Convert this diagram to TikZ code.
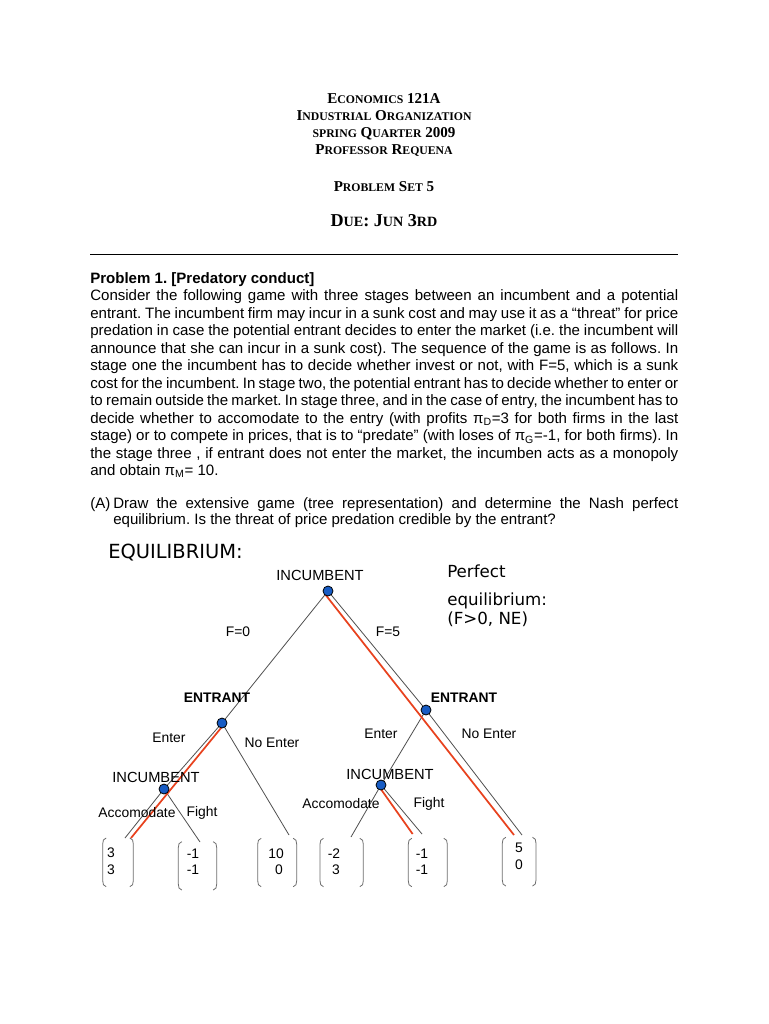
\documentclass[tikz,border=0pt]{standalone}
\usepackage{fontspec}
\setmainfont{Liberation Sans}
\newfontfamily\hdfont{Liberation Serif}
\newfontfamily\dvfont{DejaVu Sans}
\usetikzlibrary{backgrounds}
\frenchspacing
\newcommand\scx[1]{{\fontsize{8.8}{8.8}\selectfont #1}}
\newcommand\scy[1]{{\fontsize{10.6}{10.6}\selectfont #1}}
\definecolor{eqred}{RGB}{232,66,30}
\definecolor{edgegray}{RGB}{80,80,80}
\definecolor{dotblue}{RGB}{24,92,196}
\definecolor{brkgray}{RGB}{110,110,110}
\newcommand\brk[4]{%
  \draw[brkline] ({#1+3.5},#3) to[out=180,in=90] (#1,{#3+6}) -- (#1,{#4-6}) to[out=-90,in=180] ({#1+3.5},#4);
  \draw[brkline] ({#2-3.5},#3) to[out=0,in=90] (#2,{#3+6}) -- (#2,{#4-6}) to[out=-90,in=0] ({#2-3.5},#4);}
\begin{document}
\begin{tikzpicture}[x=0.75pt,y=-0.75pt,
  hd/.style={anchor=base,inner sep=0,font=\hdfont\bfseries\fontsize{11.3}{11.3}\selectfont},
  body/.style={anchor=base west,inner sep=0,font=\fontsize{11.29}{13}\selectfont},
  lbl/.style={inner sep=0,font=\fontsize{10.4}{10.4}\selectfont},
  blbl/.style={inner sep=0,font=\bfseries\fontsize{10.4}{10.4}\selectfont},
  inc/.style={inner sep=0,font=\fontsize{11}{11}\selectfont},
  pe/.style={anchor=base west,inner sep=0,font=\dvfont\fontsize{12.5}{12.5}\selectfont},
  num/.style={inner sep=0,font=\fontsize{10.4}{10.4}\selectfont},
  dot/.style={circle,draw=black,fill=dotblue,line width=0.6pt,minimum size=7.5pt,inner sep=0},
  edge/.style={draw=edgegray,line width=0.6pt},
  eq/.style={draw=eqred,line width=1.3pt},
  brkline/.style={draw=brkgray,line width=0.6pt}]
\useasboundingbox (0,0) rectangle (768,1024);

% heading
\node[hd] (h1) at (384,103.3) {E\scx{CONOMICS} 121A};
\node[hd] (h2) at (384,120.7) {I\scx{NDUSTRIAL} O\scx{RGANIZATION}};
\node[hd] (h3) at (384,137.3) {\scx{SPRING} Q\scx{UARTER} 2009};
\node[hd] (h4) at (384,154) {P\scx{ROFESSOR} R\scx{EQUENA}};
\node[hd] (h5) at (384,191.7) {P\scx{ROBLEM} S\scx{ET} 5};
\node[hd,font=\hdfont\bfseries\fontsize{13.6}{13.6}\selectfont] (h6) at (384,226) {D\scy{UE}: J\scy{UN} 3\scy{RD}};
\draw[line width=0.7pt] (90,254) coordinate (ruleL) -- (678,254) coordinate (ruleR);

% problem text
\node[body,font=\bfseries\fontsize{11.29}{13}\selectfont] (t0) at (90,283.3) {Problem 1. [Predatory conduct]};
\node[body] (t1) at (90,300.7) {\makebox[441pt][s]{Consider the following game with three stages between an incumbent and a potential}};
\node[body] (t2) at (90,318.2) {\makebox[441pt][s]{entrant. The incumbent firm may incur in a sunk cost and may use it as a “threat” for price}};
\node[body] (t3) at (90,335.7) {\makebox[441pt][s]{predation in case the potential entrant decides to enter the market (i.e. the incumbent will}};
\node[body] (t4) at (90,353.2) {\makebox[441pt][s]{announce that she can incur in a sunk cost). The sequence of the game is as follows. In}};
\node[body] (t5) at (90,370.7) {\makebox[441pt][s]{stage one the incumbent has to decide whether invest or not, with F=5, which is a sunk}};
\node[body] (t6) at (90,388.2) {\makebox[441pt][s]{cost for the incumbent. In stage two, the potential entrant has to decide whether to enter or}};
\node[body] (t7) at (90,405.7) {\makebox[441pt][s]{to remain outside the market. In stage three, and in the case of entry, the incumbent has to}};
\node[body] (t8) at (90,423.2) {\makebox[441pt][s]{decide whether to accomodate to the entry (with profits π\textsubscript{D}=3 for both firms in the last}};
\node[body] (t9) at (90,440.7) {\makebox[441pt][s]{stage) or to compete in prices, that is to “predate” (with loses of π\textsubscript{G}=-1, for both firms). In}};
\node[body] (t10) at (90,458.2) {\makebox[441pt][s]{the stage three , if entrant does not enter the market, the incumben acts as a monopoly}};
\node[body] (t11) at (90,475.7) {and obtain π\textsubscript{M}= 10.};
\node[body] (a0) at (90,508) {(A)};
\node[body] (a1) at (113,508) {\makebox[423.75pt][s]{Draw the extensive game (tree representation) and determine the Nash perfect}};
\node[body] (a2) at (113,524.5) {equilibrium. Is the threat of price predation credible by the entrant?};

\node[anchor=base west,inner sep=0,font=\dvfont\fontsize{14.6}{14.6}\selectfont] (eqt) at (108,558) {EQUILIBRIUM:};
\node[pe] (pe1) at (447,577) {Perfect};
\node[pe] (pe2) at (447,605) {equilibrium:};
\node[pe] (pe3) at (447,624) {(F>0, NE)};

% game tree nodes
\node[dot] (root) at (328,591) {};
\node[dot] (entL) at (222,723) {};
\node[dot] (entR) at (426,710) {};
\node[dot] (incL) at (164,789) {};
\node[dot] (incR) at (381,785) {};
\coordinate (lfA) at (125,838);
\coordinate (lfF) at (200,842);
\coordinate (lfN) at (289,835);
\coordinate (rtA) at (351,837);
\coordinate (rtF) at (422,834);
\coordinate (rtN) at (522,835);

\begin{pgfonlayer}{background}
\fill[white] (0,0) rectangle (768,1024);
\draw[edge] (root.center) -- (entL.center);
\draw[edge] (root.center) -- (entR.center);
\draw[edge] (entL.center) -- (incL.center);
\draw[edge] (entL.center) -- (lfN);
\draw[edge] (incL.center) -- (lfA);
\draw[edge] (incL.center) -- (lfF);
\draw[edge] (entR.center) -- (incR.center);
\draw[edge] (entR.center) -- (rtN);
\draw[edge] (incR.center) -- (rtA);
\draw[edge] (incR.center) -- (rtF);
\draw[eq] ([xshift=-2.5pt,yshift=-2pt]root.center) -- ([xshift=-6pt]rtN);
\draw[eq] ([xshift=1.5pt,yshift=-1pt]entL.center) -- ([xshift=4.5pt]lfA);
\draw[eq] ([xshift=-0.5pt,yshift=-2.5pt]incR.center) -- ([xshift=-7pt]rtF);
\end{pgfonlayer}

% tree labels
\node[inc] (lRoot) at (320,575) {INCUMBENT};
\node[lbl] (f0) at (238,632) {F=0};
\node[lbl] (f5) at (388,632) {F=5};
\node[blbl] (lEntL) at (217,698) {ENTRANT};
\node[blbl] (lEntR) at (464,698) {ENTRANT};
\node[lbl] (eL) at (169,738) {Enter};
\node[lbl] (neL) at (272,743) {No Enter};
\node[lbl] (eR) at (381,734) {Enter};
\node[lbl] (neR) at (489,734) {No Enter};
\node[inc] (lIncL) at (156,777) {INCUMBENT};
\node[inc] (lIncR) at (390,774) {INCUMBENT};
\node[lbl] (acL) at (137,813) {Accomodate};
\node[lbl] (fiL) at (202,813) {Fight};
\node[lbl] (acR) at (341,804) {Accomodate};
\node[lbl] (fiR) at (429,804) {Fight};

% payoffs
\brk{102.7}{133.3}{838}{886.7}
\node[num] (p1a) at (111,853) {3};
\node[num] (p1b) at (111,870) {3};
\brk{178.3}{216.7}{841.7}{890}
\node[num] (p2a) at (193,854) {-1};
\node[num] (p2b) at (193,870) {-1};
\brk{257.7}{296.7}{838.3}{886.7}
\node[num] (p3a) at (276,854) {10};
\node[num] (p3b) at (279,870) {0};
\brk{320}{363.3}{838.3}{886.7}
\node[num] (p4a) at (334,854) {-2};
\node[num] (p4b) at (336,870) {3};
\brk{408.3}{447.3}{838.3}{886.7}
\node[num] (p5a) at (422,854) {-1};
\node[num] (p5b) at (422,870) {-1};
\brk{502.3}{536}{837.3}{886}
\node[num] (p6a) at (519,848) {5};
\node[num] (p6b) at (519,865) {0};
\end{tikzpicture}
\end{document}
